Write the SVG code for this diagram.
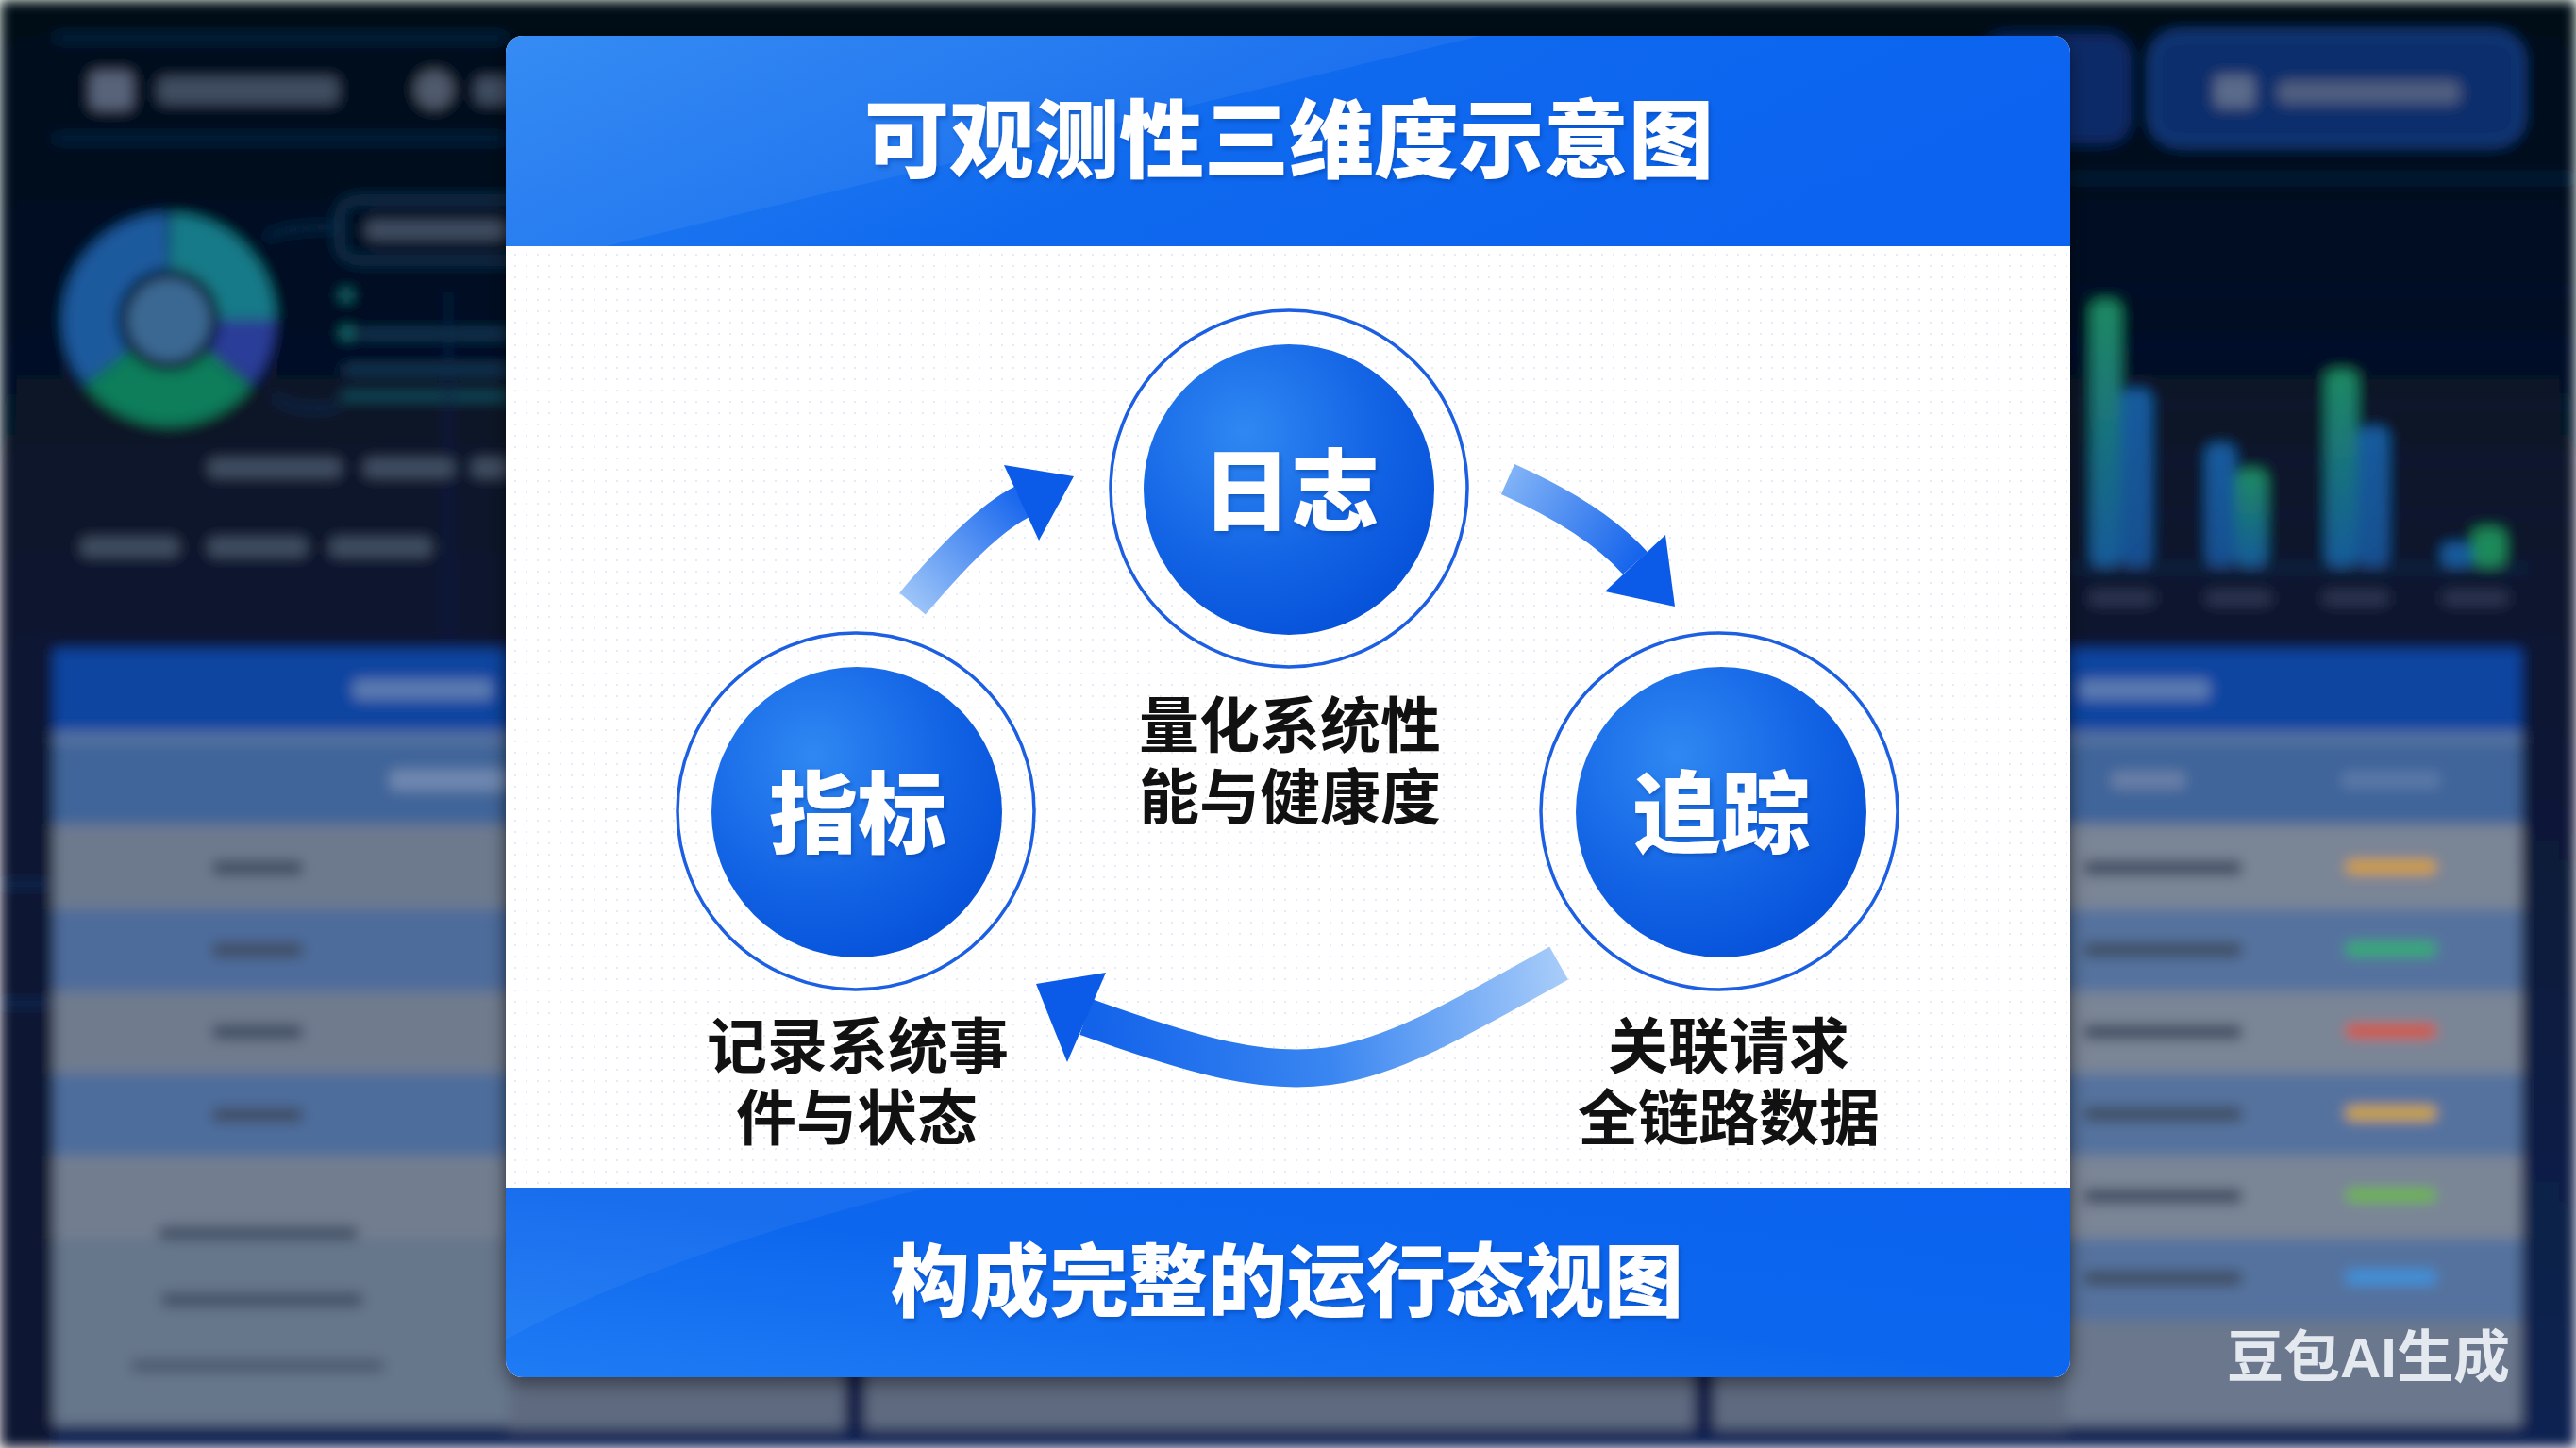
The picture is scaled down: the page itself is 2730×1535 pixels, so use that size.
<svg xmlns="http://www.w3.org/2000/svg" width="2730" height="1535" viewBox="0 0 2730 1535">
<defs>
<style>
.cjk{font-family:"Liberation Sans","Noto Sans CJK SC",sans-serif;font-weight:700;text-anchor:middle}
.title{font-size:90px;fill:#ffffff;font-weight:900}
.node-text{font-size:94px;fill:#ffffff;font-weight:900}
.label{font-size:64px;fill:#111111}
.ring{fill:none;stroke:#1c5fe2;stroke-width:3.5}
.core{fill:url(#coreGrad)}
.blob{fill:#414d62}
.head{fill:#0b5be8}
</style>
<linearGradient id="bgGrad" x1="0" y1="0" x2="0" y2="1">
<stop offset="0" stop-color="#040b18"/>
<stop offset="0.45" stop-color="#081630"/>
<stop offset="1" stop-color="#0b2452"/>
</linearGradient>
<linearGradient id="headerGrad" x1="0" y1="0" x2="1" y2="0.3">
<stop offset="0" stop-color="#2a85f3"/>
<stop offset="0.55" stop-color="#0f69ee"/>
<stop offset="1" stop-color="#0b63ef"/>
</linearGradient>
<linearGradient id="footerGrad" x1="0" y1="1" x2="1" y2="0">
<stop offset="0" stop-color="#1f7cf4"/>
<stop offset="0.5" stop-color="#0d67ee"/>
<stop offset="1" stop-color="#0a62ee"/>
</linearGradient>
<radialGradient id="coreGrad" cx="0.35" cy="0.3" r="0.8">
<stop offset="0" stop-color="#2f88f2"/>
<stop offset="0.6" stop-color="#1262e4"/>
<stop offset="1" stop-color="#0450d8"/>
</radialGradient>
<linearGradient id="greenBar" x1="0" y1="0" x2="0" y2="1">
<stop offset="0" stop-color="#1f8a62"/>
<stop offset="1" stop-color="#135a9a"/>
</linearGradient>
<linearGradient id="blueBar" x1="0" y1="0" x2="0" y2="1">
<stop offset="0" stop-color="#175c9e"/>
<stop offset="1" stop-color="#134f90"/>
</linearGradient>
<linearGradient id="a1Grad" gradientUnits="userSpaceOnUse" x1="967" y1="640" x2="1083" y2="532">
<stop offset="0" stop-color="#9cc4f8"/>
<stop offset="1" stop-color="#1a68ee"/>
</linearGradient>
<linearGradient id="a2Grad" gradientUnits="userSpaceOnUse" x1="1598" y1="508" x2="1733" y2="597">
<stop offset="0" stop-color="#80b2f6"/>
<stop offset="1" stop-color="#1564ec"/>
</linearGradient>
<linearGradient id="a3Grad" gradientUnits="userSpaceOnUse" x1="1652" y1="1021" x2="1151" y2="1078">
<stop offset="0" stop-color="#a6cbf9"/>
<stop offset="0.5" stop-color="#3a86f1"/>
<stop offset="1" stop-color="#1262ea"/>
</linearGradient>
<pattern id="dots" width="12" height="12" patternUnits="userSpaceOnUse">
<circle cx="6" cy="6" r="1.1" fill="#dce8f4"/>
</pattern>
<clipPath id="cardClip">
<rect x="536" y="38" width="1658" height="1422" rx="18"/>
</clipPath>
<filter id="blur" x="-5%" y="-5%" width="110%" height="110%">
<feGaussianBlur stdDeviation="7"/>
</filter>
<filter id="cardShadow" x="-5%" y="-5%" width="110%" height="110%">
<feDropShadow dx="0" dy="6" stdDeviation="10" flood-color="#000000" flood-opacity="0.45"/>
</filter>
<filter id="txtShadow" x="-10%" y="-20%" width="120%" height="140%">
<feDropShadow dx="2" dy="3" stdDeviation="2" flood-color="#083a9a" flood-opacity="0.45"/>
</filter>
</defs>

<!-- blurred dashboard background -->
<g id="background" filter="url(#blur)">
<rect x="0" y="0" width="2730" height="1535" fill="url(#bgGrad)"/>
<rect x="57" y="38" width="480" height="4" fill="#12305a"/>
<rect x="57" y="145" width="480" height="4" fill="#12305a"/>
<rect x="96" y="76" width="44" height="40" rx="6" fill="#59637a"/>
<rect x="168" y="82" width="190" height="28" rx="6" class="blob"/>
<circle cx="460" cy="95" r="20" fill="#4f5a6c"/>
<rect x="504" y="82" width="40" height="28" rx="6" class="blob"/>
<g fill="none" stroke-width="58">
<circle cx="179" cy="339" r="83" stroke="#2a3c98" stroke-dasharray="54 470" stroke-dashoffset="0"/>
<circle cx="179" cy="339" r="83" stroke="#0f7d5a" stroke-dasharray="149 380" stroke-dashoffset="-56.5"/>
<circle cx="179" cy="339" r="83" stroke="#1c5a9e" stroke-dasharray="182 350" stroke-dashoffset="-207"/>
<circle cx="179" cy="339" r="83" stroke="#177a88" stroke-dasharray="128 400" stroke-dashoffset="-392"/>
</g>
<circle cx="179" cy="339" r="44" fill="#3b6792"/>
<path d="M282 252 Q300 240 357 241" fill="none" stroke="#16365c" stroke-width="4"/>
<path d="M290 420 Q315 440 360 430" fill="none" stroke="#16365c" stroke-width="4"/>
<rect x="360" y="212" width="200" height="64" rx="18" fill="none" stroke="#123a5a" stroke-width="6"/>
<rect x="388" y="234" width="150" height="20" rx="6" class="blob"/>
<rect x="362" y="308" width="10" height="10" fill="#1a7a80"/>
<rect x="362" y="348" width="12" height="10" fill="#1a7a80"/>
<rect x="380" y="350" width="160" height="8" fill="#17405e"/>
<rect x="365" y="388" width="175" height="8" fill="#17405e"/>
<rect x="362" y="416" width="178" height="8" fill="#175060"/>
<rect x="473" y="310" width="4" height="378" fill="#0e2448"/>
<rect x="221" y="486" width="140" height="20" rx="6" class="blob"/>
<rect x="386" y="486" width="95" height="20" rx="6" class="blob"/>
<rect x="500" y="486" width="40" height="20" rx="6" class="blob"/>
<rect x="86" y="570" width="103" height="20" rx="6" class="blob"/>
<rect x="221" y="570" width="104" height="20" rx="6" class="blob"/>
<rect x="350" y="570" width="107" height="20" rx="6" class="blob"/>
<rect x="0" y="688" width="57" height="847" fill="#071632"/>
<rect x="0" y="936" width="57" height="3" fill="#173a72"/>
<rect x="0" y="1062" width="57" height="3" fill="#173a72"/>
<rect x="57" y="688" width="483" height="87" fill="#0b45a0"/>
<rect x="374" y="720" width="148" height="22" rx="6" fill="#5a7ab0"/>
<rect x="57" y="775" width="483" height="14" fill="#5572a0"/>
<rect x="57" y="789" width="483" height="85" fill="#40659a"/>
<rect x="413" y="816" width="127" height="22" rx="6" fill="#7088b0"/>
<rect x="57" y="874" width="483" height="90" fill="#6d7a8e"/>
<rect x="57" y="964" width="483" height="87" fill="#4d6c9b"/>
<rect x="57" y="1051" width="483" height="87" fill="#6f7b8e"/>
<rect x="57" y="1138" width="483" height="87" fill="#4e6d9c"/>
<rect x="57" y="1225" width="483" height="88" fill="#727e90"/>
<rect x="57" y="1313" width="483" height="198" fill="#66768b"/>
<rect x="225" y="912" width="96" height="16" rx="5" class="blob"/>
<rect x="225" y="999" width="96" height="16" rx="5" class="blob"/>
<rect x="225" y="1086" width="96" height="16" rx="5" class="blob"/>
<rect x="225" y="1174" width="96" height="16" rx="5" class="blob"/>
<rect x="168" y="1300" width="211" height="14" rx="5" class="blob"/>
<rect x="171" y="1371" width="213" height="14" rx="5" class="blob"/>
<rect x="139" y="1442" width="268" height="12" rx="5" fill="#4a566a"/>
<rect x="540" y="1440" width="1650" height="75" fill="#5f6b80"/>
<rect x="895" y="1440" width="22" height="75" fill="#0a1e46"/>
<rect x="1795" y="1440" width="22" height="75" fill="#0a1e46"/>
<rect x="2100" y="36" width="158" height="116" rx="26" fill="#0c2c68"/>
<rect x="2281" y="36" width="391" height="116" rx="28" fill="#0c2d6c" stroke="#1b4a96" stroke-width="4"/>
<rect x="2347" y="80" width="42" height="34" rx="5" fill="#5a6a8a"/>
<rect x="2414" y="86" width="193" height="24" rx="8" fill="#4f5f80"/>
<rect x="2190" y="187" width="540" height="4" fill="#102a50"/>
<g fill="#0f2240">
<rect x="2190" y="308" width="540" height="2"/>
<rect x="2190" y="366" width="540" height="2"/>
<rect x="2190" y="429" width="540" height="2"/>
<rect x="2190" y="487" width="540" height="2"/>
<rect x="2190" y="545" width="540" height="2"/>
</g>
<rect x="2216" y="319" width="31" height="281" rx="10" fill="url(#greenBar)"/>
<rect x="2247" y="413" width="33" height="187" rx="10" fill="url(#blueBar)"/>
<rect x="2338" y="471" width="31" height="129" rx="10" fill="url(#blueBar)"/>
<rect x="2369" y="498" width="33" height="102" rx="10" fill="url(#greenBar)"/>
<rect x="2465" y="393" width="33" height="207" rx="10" fill="url(#greenBar)"/>
<rect x="2498" y="453" width="33" height="147" rx="10" fill="url(#blueBar)"/>
<rect x="2588" y="576" width="32" height="24" rx="8" fill="#175c9e"/>
<rect x="2620" y="560" width="35" height="40" rx="10" fill="#1a8a5a"/>
<rect x="2190" y="600" width="489" height="4" fill="#1a2e50"/>
<g fill="#2a3650">
<rect x="2214" y="626" width="69" height="16" rx="5"/>
<rect x="2338" y="626" width="69" height="16" rx="5"/>
<rect x="2462" y="626" width="69" height="16" rx="5"/>
<rect x="2589" y="626" width="69" height="16" rx="5"/>
</g>
<rect x="2190" y="688" width="482" height="87" fill="#0b45a0"/>
<rect x="2203" y="720" width="139" height="22" rx="6" fill="#5a7ab0"/>
<rect x="2190" y="775" width="482" height="14" fill="#5572a0"/>
<rect x="2190" y="789" width="482" height="85" fill="#40659a"/>
<rect x="2237" y="818" width="79" height="18" rx="6" fill="#6a80a8"/>
<rect x="2481" y="818" width="105" height="18" rx="6" fill="#5a78a8"/>
<rect x="2190" y="874" width="482" height="90" fill="#7a8596"/>
<rect x="2190" y="964" width="482" height="87" fill="#55729e"/>
<rect x="2190" y="1051" width="482" height="87" fill="#7a8596"/>
<rect x="2190" y="1138" width="482" height="87" fill="#55729e"/>
<rect x="2190" y="1225" width="482" height="88" fill="#7a8596"/>
<rect x="2190" y="1313" width="482" height="87" fill="#55729e"/>
<rect x="2190" y="1400" width="482" height="111" fill="#6a778c"/>
<g class="blob">
<rect x="2208" y="912" width="168" height="16" rx="5"/>
<rect x="2208" y="999" width="168" height="16" rx="5"/>
<rect x="2208" y="1086" width="168" height="16" rx="5"/>
<rect x="2208" y="1173" width="168" height="16" rx="5"/>
<rect x="2208" y="1260" width="168" height="16" rx="5"/>
<rect x="2208" y="1347" width="168" height="16" rx="5"/>
</g>
<rect x="2486" y="912" width="96" height="14" rx="6" fill="#d8a020"/>
<rect x="2486" y="999" width="96" height="14" rx="6" fill="#2eb070"/>
<rect x="2486" y="1086" width="96" height="14" rx="6" fill="#d8502e"/>
<rect x="2486" y="1173" width="96" height="14" rx="6" fill="#d4a826"/>
<rect x="2486" y="1260" width="96" height="14" rx="6" fill="#6ab840"/>
<rect x="2486" y="1347" width="96" height="14" rx="6" fill="#3a94e0"/>
</g>

<!-- card -->
<g id="card">
<rect x="536" y="38" width="1658" height="1422" rx="18" fill="#ffffff" filter="url(#cardShadow)"/>
<g clip-path="url(#cardClip)">
<rect x="536" y="261" width="1658" height="998" fill="url(#dots)"/>
<rect x="536" y="38" width="1658" height="223" fill="url(#headerGrad)"/>
<polygon points="536,38 1569,38 642,261 536,261" fill="#ffffff" opacity="0.06"/>
<rect x="536" y="1259" width="1658" height="201" fill="url(#footerGrad)"/>
<path d="M536 1259 L983 1259 Q700 1330 536 1420 Z" fill="#ffffff" opacity="0.05"/>
</g>
</g>

<g id="title">
<text class="cjk title" x="1366" y="181" filter="url(#txtShadow)">可观测性三维度示意图</text>
</g>

<!-- connectors -->
<g id="connectors">
<path d="M967 640 Q1039 554 1083 532" fill="none" stroke="url(#a1Grad)" stroke-width="36"/>
<polygon class="head" points="1064,493 1138,505 1101,573"/>
<path d="M1598 508 Q1690 549 1733 597" fill="none" stroke="url(#a2Grad)" stroke-width="35"/>
<polygon class="head" points="1765,567 1775,643 1701,627"/>
<path d="M1652 1021 C1426 1148 1395 1166 1151 1078" fill="none" stroke="url(#a3Grad)" stroke-width="40"/>
<polygon class="head" points="1172,1031 1098,1043 1131,1126"/>
</g>

<!-- nodes -->
<g id="node-logs">
<circle class="ring" cx="1366" cy="518" r="189"/>
<circle class="core" cx="1366" cy="519" r="154"/>
<text class="cjk node-text" x="1368" y="555" filter="url(#txtShadow)">日志</text>
<text class="cjk label" x="1367" y="792">量化系统性<tspan x="1367" dy="76">能与健康度</tspan></text>
</g>
<g id="node-metrics">
<circle class="ring" cx="907" cy="860" r="189"/>
<circle class="core" cx="908" cy="861" r="154"/>
<text class="cjk node-text" x="909" y="897" filter="url(#txtShadow)">指标</text>
<text class="cjk label" x="909" y="1132">记录系统事<tspan x="908" dy="76">件与状态</tspan></text>
</g>
<g id="node-traces">
<circle class="ring" cx="1822" cy="860" r="189"/>
<circle class="core" cx="1824" cy="861" r="154"/>
<text class="cjk node-text" x="1824" y="897" filter="url(#txtShadow)">追踪</text>
<text class="cjk label" x="1832" y="1132">关联请求<tspan x="1832" dy="76">全链路数据</tspan></text>
</g>

<g id="footer">
<text class="cjk title" style="font-size:84px" x="1364" y="1389" filter="url(#txtShadow)">构成完整的运行态视图</text>
</g>

<g id="watermark">
<text class="cjk" x="2510" y="1460" style="font-size:60px;fill:#e4e9f0">豆包AI生成</text>
</g>
</svg>
